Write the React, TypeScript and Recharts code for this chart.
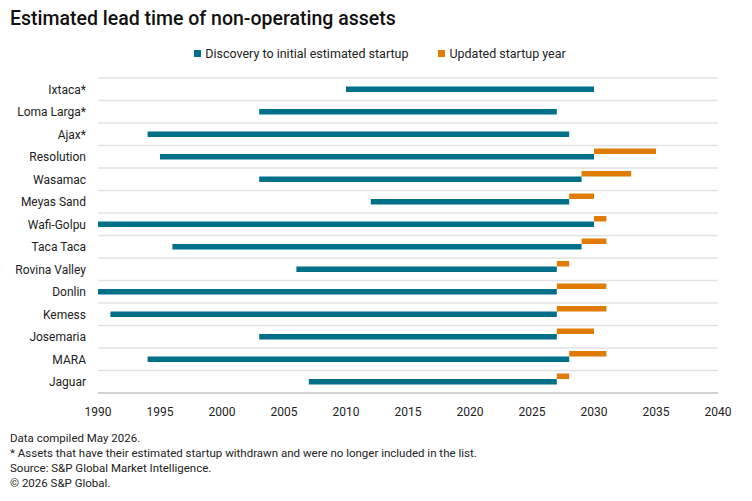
import React from "react";
import {
  BarChart,
  Bar,
  XAxis,
  YAxis,
  CartesianGrid,
} from "recharts";

const FONT = "Roboto, 'Liberation Sans', Arial, sans-serif";
const TEAL = "#006f88";
const ORANGE = "#e07b05";

const assets = [
  "Ixtaca*",
  "Loma Larga*",
  "Ajax*",
  "Resolution",
  "Wasamac",
  "Meyas Sand",
  "Wafi-Golpu",
  "Taca Taca",
  "Rovina Valley",
  "Donlin",
  "Kemess",
  "Josemaria",
  "MARA",
  "Jaguar",
];
const discoveryYear = [2010, 2003, 1994, 1995, 2003, 2012, 1990, 1996, 2006, 1990, 1991, 2003, 1994, 2007];
const initialStartup = [2030, 2027, 2028, 2030, 2029, 2028, 2030, 2029, 2027, 2027, 2027, 2027, 2028, 2027];
// null = no revised startup year
const updatedStartup: (number | null)[] = [null, null, null, 2035, 2033, 2030, 2031, 2031, 2028, 2031, 2031, 2030, 2031, 2028];
const yearTicks = [1990, 1995, 2000, 2005, 2010, 2015, 2020, 2025, 2030, 2035, 2040];

const footnotes = [
  "Data compiled May 2026.",
  "* Assets that have their estimated startup withdrawn and were no longer included in the list.",
  "Source: S&P Global Market Intelligence.",
  "\u00a9 2026 S&P Global.",
];

const rows = assets.map((name, i) => ({
  name,
  lead: [discoveryYear[i], initialStartup[i]],
  delay: updatedStartup[i] == null ? null : [initialStartup[i], updatedStartup[i]],
  spacer: null,
}));

const legendItems = [
  { label: "Discovery to initial estimated startup", color: TEAL },
  { label: "Updated startup year", color: ORANGE },
];

// grid lines sit on the category band edges instead of the band centres
const bandEdges = ({ offset }: any) => {
  const step = offset.height / assets.length;
  return assets.map((_, i) => offset.top + i * step);
};

export default function App() {
  return (
    <div style={{ position: "absolute", left: 0, top: 0, width: 752, height: 501, background: "#fff", fontFamily: FONT }}>
      <div style={{ position: "absolute", left: 10, top: 7, fontSize: 19.5, fontWeight: 500, color: "#111" }}>
        Estimated lead time of non-operating assets
      </div>
      <div
        style={{
          position: "absolute",
          left: 0,
          width: 760,
          top: 46,
          display: "flex",
          justifyContent: "center",
          gap: 30,
          fontSize: 12.5,
          color: "#222",
        }}
      >
        {legendItems.map((it) => (
          <span key={it.label} style={{ display: "flex", alignItems: "center" }}>
            <span style={{ width: 7, height: 7, background: it.color, marginRight: 4, display: "inline-block" }} />
            {it.label}
          </span>
        ))}
      </div>
      <BarChart
        width={752}
        height={430}
        data={rows}
        layout="vertical"
        margin={{ top: 78, right: 34, bottom: 7, left: 0 }}
        barSize={5.5}
        barGap={0}
        barCategoryGap={0}
      >
        <CartesianGrid
          vertical={false}
          stroke="#e2e2e2"
          strokeWidth={1.5}
          horizontalCoordinatesGenerator={bandEdges}
        />
        <XAxis
          type="number"
          domain={[1990, 2040]}
          ticks={yearTicks}
          allowDataOverflow
          height={30}
          tickLine={false}
          tickMargin={8}
          axisLine={{ stroke: "#a6a6a6", strokeWidth: 1 }}
          tick={{ fontSize: 12, fill: "#222", fontFamily: FONT }}
        />
        <YAxis
          type="category"
          dataKey="name"
          width={98}
          tickLine={false}
          axisLine={false}
          tickSize={0}
          tickMargin={12}
          interval={0}
          tick={{ fontSize: 12, fill: "#222", fontFamily: FONT }}
        />
        <Bar dataKey="delay" fill={ORANGE} isAnimationActive={false} />
        <Bar dataKey="lead" fill={TEAL} isAnimationActive={false} />
        <Bar dataKey="spacer" fill="none" isAnimationActive={false} legendType="none" />
      </BarChart>
      <div style={{ position: "absolute", left: 10, top: 431, fontSize: 11.5, lineHeight: "15px", color: "#222" }}>
        {footnotes.map((t) => (
          <div key={t}>{t}</div>
        ))}
      </div>
    </div>
  );
}
